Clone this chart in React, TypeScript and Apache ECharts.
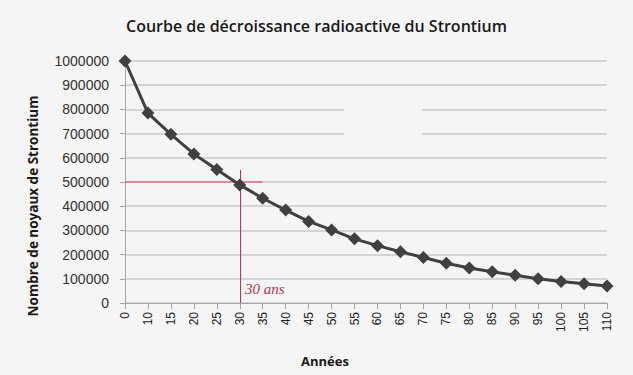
import React, { useEffect, useRef } from "react";
import * as echarts from "echarts";

const TITLE = "Courbe de décroissance radioactive du Strontium";
const X_NAME = "Années";
const Y_NAME = "Nombre de noyaux de Strontium";
const years = ["0", "10", "15", "20", "25", "30", "35", "40", "45", "50", "55", "60", "65", "70", "75", "80", "85", "90", "95", "100", "105", "110"];
const noyaux = [1000000, 785000, 697000, 616000, 552000, 488000, 433000, 384000, 337000, 302000, 265000, 237000, 212000, 188000, 164000, 145000, 129000, 115000, 100000, 89000, 80000, 70000];
const halfLifeYear = "30";
const halfLifeValue = 500000;
const halfLifeLineEndYear = "35";
const verticalTopValue = 550000;
const halfLifeLabel = "30 ans";

export default function App() {
  const ref = useRef<HTMLDivElement>(null);
  useEffect(() => {
    document.body.style.margin = "0";
    const chart = echarts.init(ref.current!, null, { renderer: "svg" });
    chart.setOption({
      animation: false,
      backgroundColor: "#f5f5f5",
      textStyle: { fontFamily: "Open Sans" },
      title: {
        text: TITLE,
        left: "center",
        top: 13,
        textStyle: { fontFamily: "Open Sans", fontSize: 16, fontWeight: 600, color: "#1a1a1a" },
      },
      grid: { left: 125, right: 26, top: 61, bottom: 72 },
      xAxis: {
        type: "category",
        data: years,
        boundaryGap: false,
        axisLine: { lineStyle: { color: "#a6a6a6", width: 1 } },
        axisTick: { show: true, length: 6, lineStyle: { color: "#a6a6a6" } },
        axisLabel: { rotate: 90, margin: 9, fontSize: 12, color: "#222", fontFamily: "Liberation Sans", interval: 0 },
        splitLine: { show: false },
      },
      yAxis: {
        type: "value",
        min: 0,
        max: 1000000,
        interval: 100000,
        axisLine: { show: true, lineStyle: { color: "#a6a6a6", width: 1 } },
        axisTick: { show: true, length: 5, lineStyle: { color: "#a6a6a6" } },
        axisLabel: {
          margin: 16,
          fontSize: 14,
          color: "#333",
          fontFamily: "Liberation Sans",
          formatter: (v: number) => String(v),
        },
        splitLine: { lineStyle: { color: "#c8c8c8", width: 1.5 } },
      },
      graphic: [
        { type: "rect", shape: { x: 344, y: 100, width: 78, height: 42 }, style: { fill: "#f5f5f5" }, z: 3 },
        {
          type: "text",
          left: 301,
          top: 354,
          style: { text: X_NAME, fontFamily: "Open Sans", fontSize: 13, fontWeight: 700, fill: "#1a1a1a" },
        },
        {
          type: "text",
          x: 33,
          y: 206,
          rotation: Math.PI / 2,
          style: {
            text: Y_NAME,
            fontFamily: "Open Sans",
            fontSize: 13.5,
            fontWeight: 700,
            fill: "#1a1a1a",
            align: "center",
            verticalAlign: "middle",
          },
        },
        {
          type: "text",
          left: 245,
          top: 281,
          style: { text: halfLifeLabel, fontFamily: "Liberation Serif", fontStyle: "italic", fontSize: 15, fill: "#b5364a" },
        },
      ],
      series: [
        {
          type: "line",
          data: noyaux,
          symbol: "diamond",
          symbolSize: 13,
          itemStyle: { color: "#404040" },
          lineStyle: { color: "#404040", width: 3 },
          z: 5,
          markLine: {
            silent: true,
            symbol: ["none", "none"],
            label: { show: false },
            data: [
              [
                { coord: [years[0], halfLifeValue], lineStyle: { color: "#d98a94", width: 2, type: "solid" } },
                { coord: [halfLifeLineEndYear, halfLifeValue] },
              ],
              [
                { coord: [halfLifeYear, 0], lineStyle: { color: "#b5364a", width: 1, type: "solid" } },
                { coord: [halfLifeYear, verticalTopValue] },
              ],
            ],
          },
        },
      ],
    });
    return () => chart.dispose();
  }, []);
  return <div ref={ref} style={{ width: 633, height: 375 }} />;
}
